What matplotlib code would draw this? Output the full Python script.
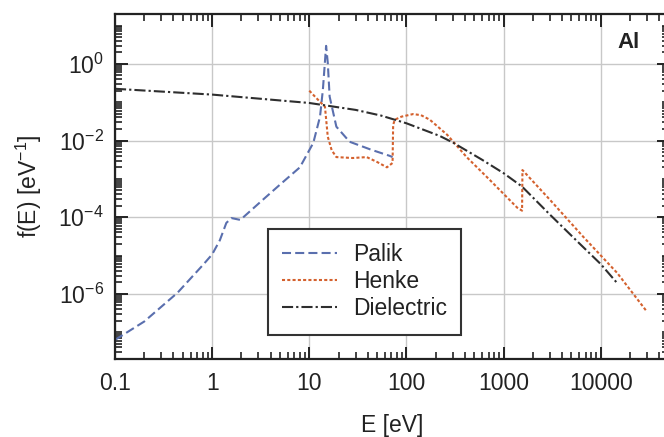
import numpy as np
import matplotlib
matplotlib.use("Agg")
import matplotlib.pyplot as plt
from matplotlib.ticker import LogLocator, FixedLocator, FuncFormatter, NullFormatter

plt.rcParams['font.family'] = ['Liberation Sans', 'DejaVu Sans']
plt.rcParams['mathtext.fontset'] = 'custom'
plt.rcParams['mathtext.rm'] = 'Liberation Sans'
plt.rcParams['mathtext.it'] = 'Liberation Sans:italic'
plt.rcParams['mathtext.bf'] = 'Liberation Sans:bold'
plt.rcParams['lines.scale_dashes'] = False

# Energy-loss function data for aluminium
palik_E = [0.1, 0.2, 0.44, 0.8, 1.0, 1.2, 1.4, 1.58, 1.95, 3.3, 5.0, 8.0, 11.0,
           12.9, 13.8, 14.9, 15.5, 16.2, 19.0, 26.0, 43.0, 67.0, 72.0]
palik_f = [6.3e-8, 1.9e-7, 1.07e-6, 5.6e-6, 1.07e-5, 2.5e-5, 7.1e-5, 9.5e-5, 8.5e-5,
           2.8e-4, 7.1e-4, 2.0e-3, 8.7e-3, 4.2e-2, 0.21, 2.95, 1.07, 0.14, 0.023,
           9.3e-3, 5.8e-3, 4.0e-3, 3.7e-3]

henke_E = [10, 12.9, 14.5, 15.5, 17, 19, 28, 39, 50, 63, 72.0, 73.0, 76, 89, 117,
           141, 174, 263, 417, 724, 1380, 1550, 1565, 3020, 6600, 14800, 30000]
henke_f = [0.20, 0.102, 0.076, 0.0126, 5.6e-3, 3.7e-3, 3.5e-3, 3.7e-3, 2.75e-3,
           2.0e-3, 2.6e-3, 0.0257, 0.035, 0.042, 0.049, 0.046, 0.035, 0.0141,
           3.7e-3, 9.3e-4, 1.78e-4, 1.48e-4, 1.7e-3, 2.8e-4, 3.1e-5, 3.5e-6, 3.4e-7]

diel_E = [0.1, 1, 10, 30, 55, 100, 220, 300, 600, 1000, 1550, 3000, 6000, 10000, 14800]
diel_f = [0.224, 0.158, 0.0955, 0.063, 0.0447, 0.0282, 0.0132, 8.9e-3, 3.16e-3,
          1.41e-3, 6.3e-4, 1.17e-4, 2.1e-5, 6.0e-6, 1.9e-6]

series_names = ["Palik", "Henke", "Dielectric"]

W, H, DPI = 664, 437, 100
fig = plt.figure(figsize=(W / DPI, H / DPI), dpi=DPI)
ax_left, ax_bottom = 115, 78
ax_w, ax_h = 553.6, 345
ax = fig.add_axes([ax_left / W, ax_bottom / H, ax_w / W, ax_h / H])

ax.set_xscale('log')
ax.set_yscale('log')
ax.set_xlim(0.1, 5e4)
ax.set_ylim(2e-8, 20)

lw = 1.5
ax.plot(palik_E, palik_f, color='#5a6fae', lw=lw, dashes=(6.5, 3), label=series_names[0])
ax.plot(henke_E, henke_f, color='#d4612e', lw=lw, dashes=(2.2, 1.6), label=series_names[1])
ax.plot(diel_E, diel_f, color='#2e2e2e', lw=lw, dashes=(8, 2.2, 1.6, 2.2), label=series_names[2])

# ticks
ax.xaxis.set_major_locator(LogLocator(base=10, numticks=20))
ax.xaxis.set_minor_locator(LogLocator(base=10, subs=np.arange(2, 10), numticks=20))
xt = {0.1: '0.1', 1: '1', 10: '10', 100: '100', 1000: '1000', 10000: '10000'}
ax.xaxis.set_major_formatter(FuncFormatter(lambda v, p: xt.get(round(v, 6) if v < 1 else int(round(v)), '')))
ax.xaxis.set_minor_formatter(NullFormatter())

y_major = [10.0 ** k for k in range(-6, 1, 2)]
ax.yaxis.set_major_locator(FixedLocator(y_major))
y_minor = [m * 10.0 ** k for k in range(-9, 2) for m in range(1, 10)
           if not (m == 1 and k % 2 == 0)]
ax.yaxis.set_minor_locator(FixedLocator(y_minor))
ax.yaxis.set_major_formatter(FuncFormatter(lambda v, p: r'$10^{%d}$' % int(round(np.log10(v)))))
ax.yaxis.set_minor_formatter(NullFormatter())

ax.tick_params(which='both', direction='in', top=True, right=True, colors='#222222')
ax.tick_params(which='major', length=9, width=1.4, labelsize=16.5, pad=8)
ax.tick_params(which='minor', length=5, width=1.2)
ax.tick_params(axis='x', which='major', pad=9)

for s in ax.spines.values():
    s.set_linewidth(1.6)
    s.set_color('#222222')

ax.grid(True, which='major', color='#c8c8c8', lw=1.0)
ax.set_axisbelow(True)

ax.set_xlabel('E [eV]', fontsize=16.5, labelpad=14, color='#222222')
ax.set_ylabel(r'f(E) [eV$^{-1}$]', fontsize=16.5, labelpad=10, color='#222222')

ax.text(0.948, 0.916, 'Al', transform=ax.transAxes, ha='right', va='center',
        fontsize=16, fontweight='bold', color='#222222')

leg = ax.legend(loc='upper left', bbox_to_anchor=(0.276, 0.377), fontsize=16.5,
                handlelength=2.4, handletextpad=0.7, labelspacing=0.18,
                borderpad=0.62, borderaxespad=0, fancybox=False, framealpha=1,
                edgecolor='#333333')
leg.get_frame().set_linewidth(1.5)
for t in leg.get_texts():
    t.set_color('#222222')

fig.savefig('out.png', dpi=DPI)
